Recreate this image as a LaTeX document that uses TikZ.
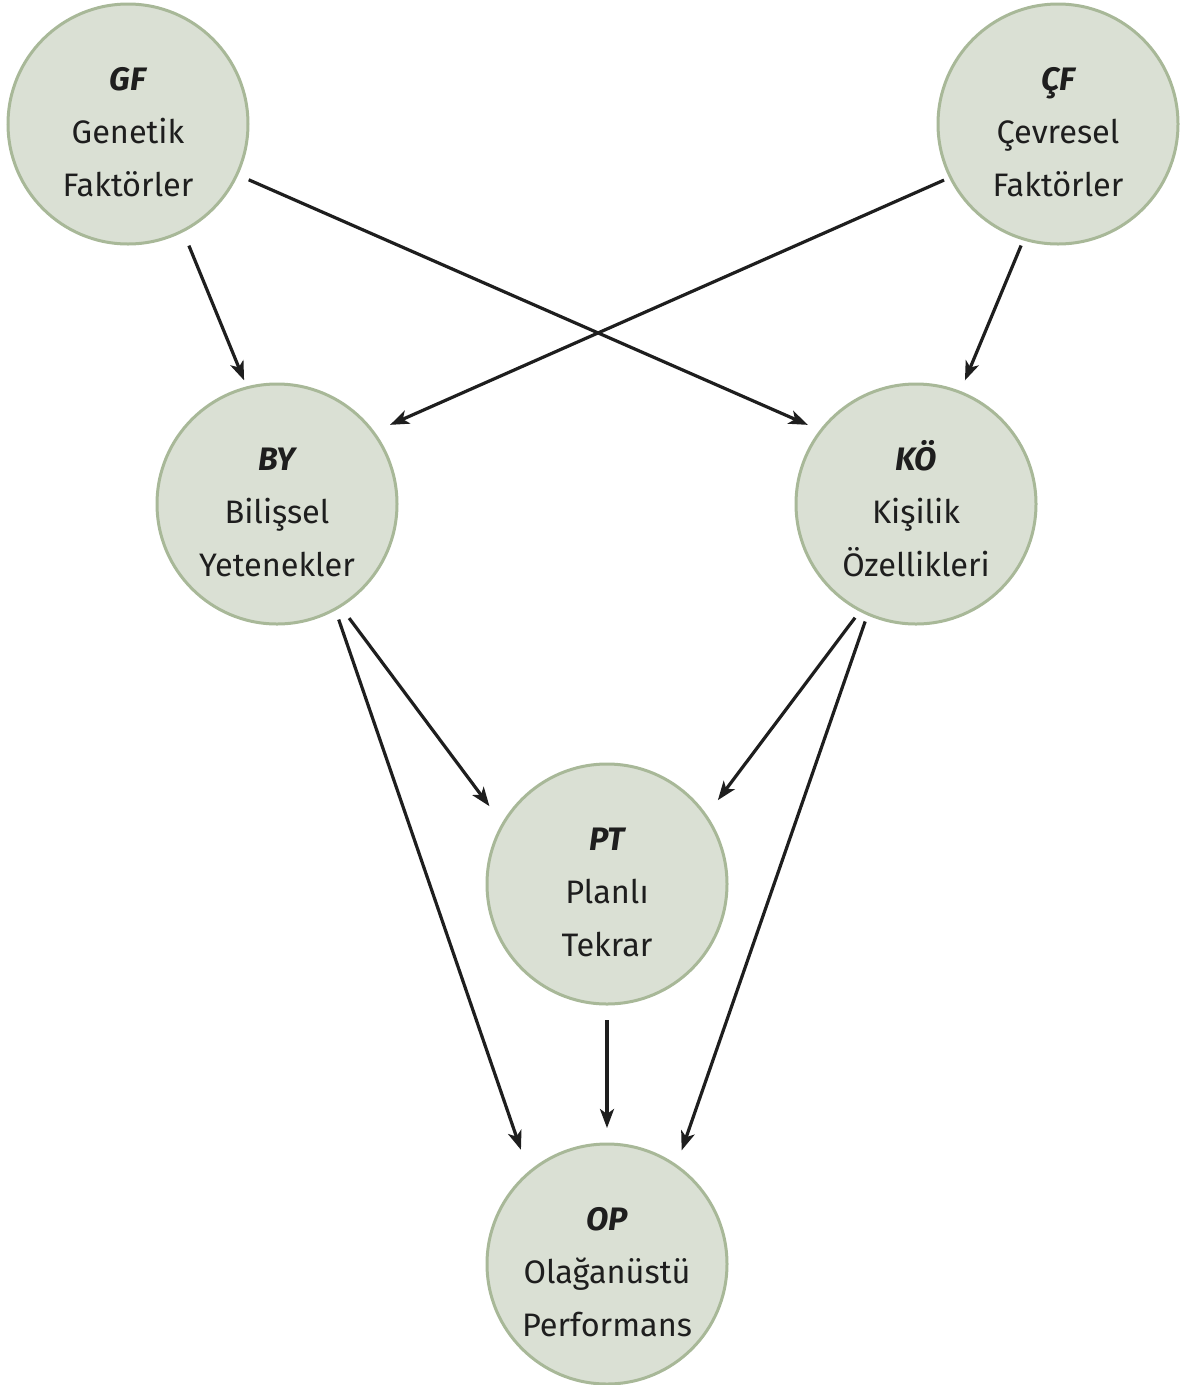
\documentclass[tikz,border=0pt]{standalone}
\usepackage{fontspec}
\setmainfont{Fira Sans}
\usetikzlibrary{arrows.meta,calc}
\definecolor{nodefill}{HTML}{DAE0D4}
\definecolor{nodeline}{HTML}{A8B898}
\definecolor{ink}{HTML}{1E1E1E}
\begin{document}
\begin{tikzpicture}[x=1pt,y=1pt,
  factor/.style={circle,draw=nodeline,fill=nodefill,line width=3pt,
    minimum size=240pt,inner sep=0pt,align=center,text=ink,
    font=\fontsize{32.5}{53}\selectfont},
  arr/.style={draw=ink,line width=3.2pt,-{Stealth[length=19pt,width=14pt,inset=5pt]}}]
\useasboundingbox (0,0) rectangle (1186,-1385);
% bold italic abbreviation; the strut fixes the height of the first line
\newcommand{\abbr}[1]{{\bfseries\itshape #1}\rule{0pt}{40pt}}
\node[factor] (GF) at (128,-124)  {\abbr{GF}\\Genetik\\Faktörler};
\node[factor] (CF) at (1058,-124) {\abbr{ÇF}\\Çevresel\\Faktörler};
\node[factor] (BY) at (277,-504)  {\abbr{BY}\\Bilişsel\\Yetenekler};
\node[factor] (KO) at (916,-504)  {\abbr{KÖ}\\Kişilik\\Özellikleri};
\node[factor] (PT) at (607,-884)  {\abbr{PT}\\Planlı\\Tekrar};
\node[factor] (OP) at (607,-1264) {\abbr{OP}\\Olağanüstü\\Performans};
% influence arrows
\draw[arr] ($(GF)+(-63.4:136)$)  -- ($(BY)+(104.9:128)$);
\draw[arr] ($(GF)+(-24.8:133)$)  -- ($(KO)+(143.8:134)$);
\draw[arr] ($(CF)+(-153.8:127)$) -- ($(BY)+(35:138)$);
\draw[arr] ($(CF)+(-106.9:127)$) -- ($(KO)+(68.4:133)$);
\draw[arr] ($(BY)+(-57.7:135)$)  -- ($(PT)+(146.5:141)$);
\draw[arr] ($(BY)+(-61.9:131)$)  -- ($(OP)+(127:143)$);
\draw[arr] ($(KO)+(-118.2:129)$) -- ($(PT)+(37.1:139)$);
\draw[arr] ($(KO)+(-113.4:128)$) -- ($(OP)+(56.7:136)$);
\draw[arr] ($(PT)+(-90:136)$)    -- ($(OP)+(90:136)$);
\end{tikzpicture}
\end{document}
